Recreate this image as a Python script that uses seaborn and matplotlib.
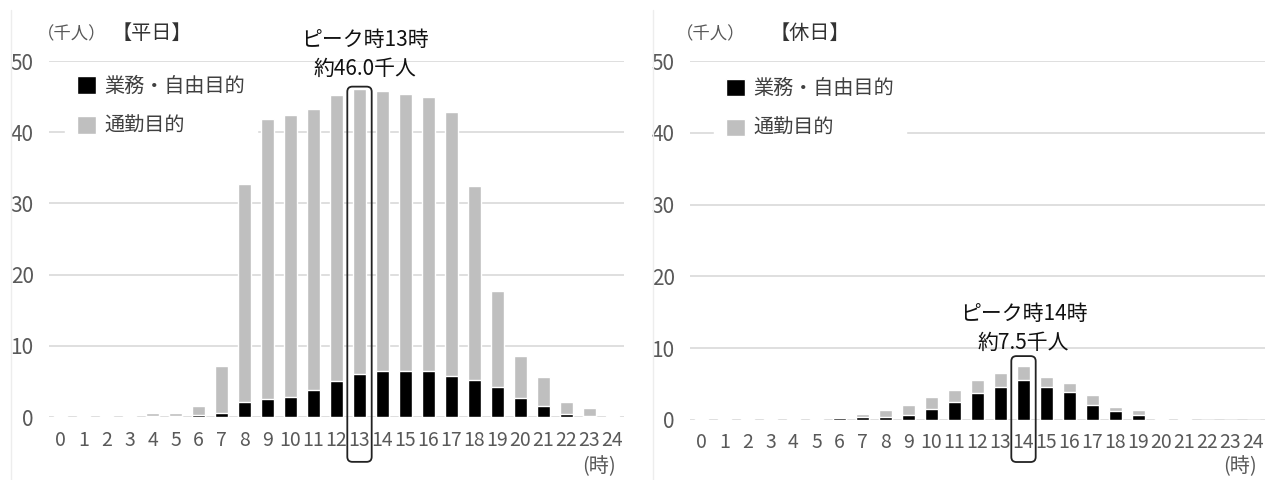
import numpy as np
import pandas as pd
import matplotlib
matplotlib.use('Agg')
import matplotlib.pyplot as plt
import seaborn as sns
from matplotlib.patches import FancyBboxPatch, Patch
from matplotlib.lines import Line2D

# ---------------- data ----------------
hours = [str(h) for h in range(25)]
weekday_business = [0.1, 0.1, 0.1, 0.1, 0.1, 0.1, 0.3, 0.5, 2.1, 2.5, 2.8, 3.8, 5.0,
                    6.0, 6.5, 6.4, 6.4, 5.8, 5.2, 4.2, 2.7, 1.5, 0.4, 0.1, 0.0]
weekday_commute = [0.05, 0.05, 0.05, 0.05, 0.4, 0.5, 1.3, 6.7, 30.6, 39.3, 39.6, 39.4, 40.2,
                   40.0, 39.3, 39.0, 38.6, 37.0, 27.3, 13.5, 5.9, 4.1, 1.7, 1.1, 0.15]
holiday_business = [0.2, 0.2, 0.2, 0.2, 0.2, 0.2, 0.25, 0.45, 0.35, 0.75, 1.6, 2.5, 3.7,
                    4.6, 5.6, 4.6, 3.9, 2.1, 1.2, 0.75, 0.2, 0.2, 0.0, 0.0, 0.0]
holiday_commute = [0.0, 0.0, 0.0, 0.0, 0.0, 0.0, 0.2, 0.45, 1.05, 1.35, 1.6, 1.7, 1.9,
                   1.9, 1.9, 1.4, 1.3, 1.4, 0.65, 0.65, 0.0, 0.0, 0.0, 0.0, 0.0]
yticks = [0, 10, 20, 30, 40, 50]
legend_labels = ['業務・自由目的', '通勤目的']
panel_titles = ['【平日】', '【休日】']
unit_label = '（千人）'
hour_label = '(時)'
peak_hours = [13, 14]
peak_texts = ['ピーク時13時\n約46.0千人', 'ピーク時14時\n約7.5千人']

# ---------------- style ----------------
sns.set_theme(style='white')
plt.rcParams['font.family'] = ['Noto Sans CJK JP', 'DejaVu Sans']

BLACK = '#000000'
GRAY = '#bfbfbf'
GRID = '#d9d9d9'
TXT = '#595959'

W, H = 1266, 480
fig = plt.figure(figsize=(W / 100, H / 100), dpi=100)
fig.patch.set_facecolor('white')


def px_axes(x0, x1, ytop, ybot):
    return fig.add_axes([x0 / W, 1 - ybot / H, (x1 - x0) / W, (ybot - ytop) / H])


ax1 = px_axes(49, 624, 61, 417)
ax2 = px_axes(690, 1265, 61, 420)

# faint panel borders
for xp in (10.5, 653):
    fig.add_artist(Line2D([xp / W, xp / W], [0, 1 - 10 / H], transform=fig.transFigure,
                          color='#ededed', lw=1))

# (ax, business, commute, legend x, legend y, box top, box bottom, text y, text dx, hour y)
panels = [
    (ax1, weekday_business, weekday_commute, 0.028, 0.992, 46.4, -6.3, 50.9, 0.25, -6.9),
    (ax2, holiday_business, holiday_commute, 0.042, 0.986, 8.9, -5.85, 12.8, 0.0, -6.5),
]

for i, (ax, bus, com, lx, ly, box_top, box_bot, ty, tdx, hour_y) in enumerate(panels):
    df = pd.DataFrame({'hour': hours, 'business': bus, 'commute': com})
    df['total'] = df['business'] + df['commute']
    sns.barplot(data=df, x='hour', y='total', color=GRAY, saturation=1,
                width=0.6, errorbar=None, ax=ax, zorder=2)
    sns.barplot(data=df, x='hour', y='business', color=BLACK, saturation=1,
                width=0.6, errorbar=None, ax=ax, zorder=3)
    ax.set_xlim(-0.5, 24.5)
    ax.set_ylim(0, 50)
    ax.set_yticks(yticks)
    ax.set_xlabel('')
    ax.set_ylabel('')
    ax.yaxis.grid(True, color=GRID, lw=1.2)
    ax.set_axisbelow(True)
    sns.despine(ax=ax, left=True, bottom=True)
    ax.tick_params(axis='both', length=0, colors=TXT)
    ax.tick_params(axis='x', pad=9, labelsize=14)
    ax.tick_params(axis='y', pad=11, labelsize=15)

    handles = [Patch(facecolor=BLACK, label=legend_labels[0]),
               Patch(facecolor=GRAY, label=legend_labels[1])]
    leg = ax.legend(handles=handles, loc='upper left', bbox_to_anchor=(lx, ly),
                    borderaxespad=0, frameon=True, facecolor='white', edgecolor='white',
                    framealpha=1, fancybox=False, fontsize=14.5, handlelength=0.95,
                    handleheight=0.95, handletextpad=0.4, labelspacing=0.95,
                    borderpad=0.6, labelcolor='#404040')
    leg.set_zorder(5)

    # peak annotation
    ph = peak_hours[i]
    x_px_per_unit = ax.get_position().width * W / 25
    y_px_per_unit = ax.get_position().height * H / 50
    aspect = x_px_per_unit / y_px_per_unit
    box = FancyBboxPatch((ph - 0.53, box_bot), 1.06, box_top - box_bot,
                         boxstyle='round,pad=0,rounding_size=0.22',
                         mutation_aspect=aspect, fill=False, edgecolor='#222222',
                         lw=1.3, clip_on=False, zorder=6)
    ax.add_patch(box)
    ax.text(ph + tdx, ty, peak_texts[i], ha='center', va='center', fontsize=15,
            color='#111111', linespacing=1.4, clip_on=False)

    ax.text(24.15, hour_y, hour_label, ha='right', va='center', fontsize=14.5,
            color=TXT, clip_on=False)

# titles
fig.text(37 / W, 1 - 34 / H, unit_label, ha='left', va='center', fontsize=12.5, color=TXT)
fig.text(112 / W, 1 - 33 / H, panel_titles[0], ha='left', va='center', fontsize=14.5, color='#333333')
fig.text(676 / W, 1 - 34 / H, unit_label, ha='left', va='center', fontsize=12.5, color=TXT)
fig.text(770 / W, 1 - 33 / H, panel_titles[1], ha='left', va='center', fontsize=14.5, color='#333333')

fig.savefig('out.png', dpi=100, facecolor='white')
